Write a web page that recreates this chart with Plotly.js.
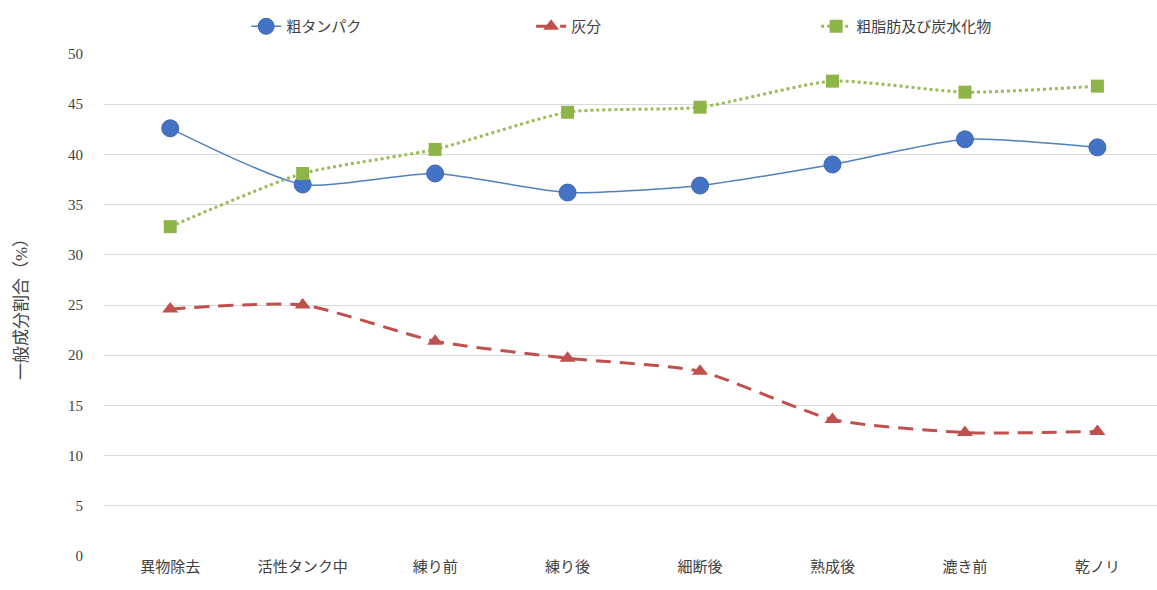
<!DOCTYPE html>
<html><head><meta charset="utf-8">
<script src="https://cdn.plot.ly/plotly-3.0.1.min.js"></script>
<style>body{margin:0;background:#fff}#c{width:1157px;height:590px}</style>
</head><body><div id="c"></div>
<script>
const categories = ["異物除去","活性タンク中","練り前","練り後","細断後","熟成後","漉き前","乾ノリ"];
const protein = [42.6, 37.0, 38.1, 36.2, 36.9, 39.0, 41.5, 40.7];
const ash = [24.6, 25.0, 21.4, 19.7, 18.4, 13.6, 12.3, 12.4];
const fatCarb = [32.8, 38.1, 40.5, 44.2, 44.7, 47.3, 46.2, 46.8];
const seriesNames = ["粗タンパク","灰分","粗脂肪及び炭水化物"];
const yTicks = [0,5,10,15,20,25,30,35,40,45,50];

const fontFam = '"Liberation Serif","Noto Sans CJK JP",serif';
const traces = [
  {x: categories, y: protein, name: seriesNames[0], type:'scatter', mode:'lines+markers',
   line:{color:'#4F81BD', width:1.5, shape:'spline', smoothing:0.6},
   marker:{symbol:'circle', size:17, color:'#4472C4', line:{color:'#3A66B0', width:1}}},
  {x: categories, y: ash, name: seriesNames[1], type:'scatter', mode:'lines+markers',
   line:{color:'#C0504D', width:3, dash:'15px,9px', shape:'spline', smoothing:0.6},
   marker:{symbol:'triangle-up', size:14, color:'#C0504D'}},
  {x: categories, y: fatCarb, name: seriesNames[2], type:'scatter', mode:'lines+markers',
   line:{color:'#9BBB59', width:3, dash:'dot', shape:'spline', smoothing:0.6},
   marker:{symbol:'square', size:13, color:'#8DB548'}}
];
const layout = {
  width:1157, height:590,
  margin:{l:104, r:0, t:54, b:34, autoexpand:false},
  paper_bgcolor:'#fff', plot_bgcolor:'#fff',
  font:{family:fontFam, color:'#404040', size:15},
  showlegend:true,
  legend:{orientation:'h', x:0.135, xanchor:'left', yref:'container', y:0.955, yanchor:'middle',
          entrywidth:240, font:{size:15, color:'#404040'}},
  xaxis:{type:'category', range:[-0.5,7.45], showgrid:false, showline:false, zeroline:false,
         ticks:'', tickfont:{size:15, color:'#404040'}},
  yaxis:{range:[0,50], tickvals:yTicks, showgrid:true, gridcolor:'#D9D9D9', gridwidth:1,
         zeroline:false, showline:false, ticks:'', ticklabelstandoff:20,
         tickfont:{size:15, color:'#404040'},
         title:{text:'一般成分割合（%）', font:{size:17, color:'#404040'}, standoff:36}}
};
Plotly.newPlot('c', traces, layout, {displayModeBar:false, staticPlot:true});
</script></body></html>
